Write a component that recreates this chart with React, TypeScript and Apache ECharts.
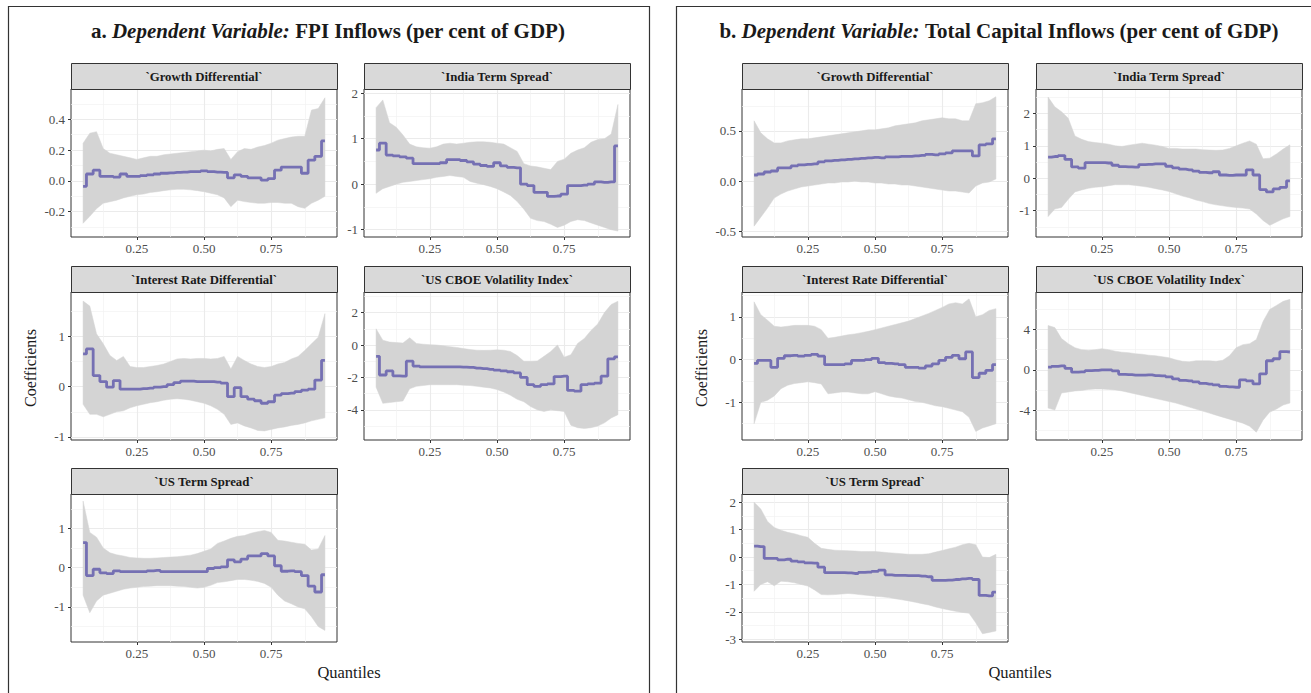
import React, { useEffect, useRef } from "react";
import * as echarts from "echarts";

const quantiles = [0.05, 0.075, 0.1, 0.125, 0.15, 0.175, 0.2, 0.225, 0.25, 0.275, 0.3, 0.325, 0.35, 0.375, 0.4, 0.425, 0.45, 0.475, 0.5, 0.525, 0.55, 0.575, 0.6, 0.625, 0.65, 0.675, 0.7, 0.725, 0.75, 0.775, 0.8, 0.825, 0.85, 0.875, 0.9, 0.925, 0.95];

const xMajorTicks = [0.25, 0.5, 0.75];
const xMinorTicks = [0.125, 0.375, 0.625, 0.875];

// a. FPI inflows
const fpiGrowthCoef = [-0.035, 0.045, 0.07, 0.03, 0.03, 0.025, 0.045, 0.03, 0.03, 0.035, 0.04, 0.045, 0.05, 0.053, 0.055, 0.057, 0.06, 0.06, 0.065, 0.06, 0.057, 0.055, 0.02, 0.04, 0.03, 0.02, 0.02, 0.005, 0.015, 0.07, 0.09, 0.09, 0.09, 0.05, 0.135, 0.16, 0.26];
const fpiGrowthUpper = [0.245, 0.31, 0.32, 0.21, 0.18, 0.17, 0.16, 0.15, 0.14, 0.15, 0.16, 0.16, 0.17, 0.175, 0.18, 0.185, 0.19, 0.195, 0.2, 0.195, 0.205, 0.21, 0.14, 0.19, 0.21, 0.205, 0.22, 0.23, 0.245, 0.265, 0.275, 0.285, 0.29, 0.29, 0.46, 0.47, 0.54];
const fpiGrowthLower = [-0.275, -0.23, -0.18, -0.145, -0.135, -0.125, -0.11, -0.1, -0.09, -0.085, -0.075, -0.07, -0.063, -0.058, -0.054, -0.054, -0.058, -0.063, -0.07, -0.08, -0.09, -0.11, -0.167, -0.125, -0.134, -0.14, -0.145, -0.145, -0.14, -0.14, -0.145, -0.145, -0.167, -0.178, -0.145, -0.125, -0.1];

const fpiIndiaCoef = [0.75, 0.9, 0.64, 0.62, 0.6, 0.57, 0.45, 0.45, 0.45, 0.45, 0.47, 0.54, 0.54, 0.52, 0.49, 0.44, 0.41, 0.39, 0.47, 0.4, 0.37, 0.36, 0.0, -0.03, -0.18, -0.18, -0.27, -0.26, -0.22, -0.03, -0.03, -0.02, 0.0, 0.05, 0.04, 0.05, 0.84];
const fpiIndiaUpper = [1.68, 1.85, 1.35, 1.25, 1.08, 0.88, 0.82, 0.8, 0.79, 0.82, 0.88, 0.9, 0.88, 0.9, 0.92, 0.93, 0.93, 0.92, 0.9, 0.88, 0.8, 0.72, 0.45, 0.4, 0.38, 0.35, 0.32, 0.5, 0.55, 0.68, 0.75, 0.8, 0.92, 0.98, 1.0, 1.1, 1.75];
const fpiIndiaLower = [-0.2, -0.1, -0.05, 0.0, 0.04, 0.06, 0.08, 0.1, 0.12, 0.15, 0.17, 0.19, 0.17, 0.15, 0.06, 0.02, -0.01, -0.05, -0.1, -0.17, -0.25, -0.38, -0.55, -0.75, -0.8, -0.82, -0.88, -0.95, -0.9, -0.82, -0.78, -0.8, -0.85, -0.9, -0.95, -1.0, -1.03];

const fpiRateCoef = [0.65, 0.75, 0.22, 0.1, -0.01, 0.12, -0.05, -0.05, -0.05, -0.04, -0.03, -0.01, 0.0, 0.04, 0.08, 0.11, 0.11, 0.1, 0.1, 0.1, 0.09, 0.07, -0.2, -0.02, -0.2, -0.25, -0.28, -0.33, -0.3, -0.17, -0.14, -0.13, -0.1, -0.07, -0.05, 0.13, 0.52];
const fpiRateUpper = [1.7, 1.6, 1.05, 0.85, 0.62, 0.52, 0.6, 0.4, 0.38, 0.38, 0.4, 0.42, 0.45, 0.5, 0.55, 0.56, 0.55, 0.56, 0.56, 0.55, 0.56, 0.6, 0.35, 0.6, 0.52, 0.45, 0.4, 0.38, 0.4, 0.45, 0.48, 0.55, 0.6, 0.72, 0.85, 0.98, 1.45];
const fpiRateLower = [-0.35, -0.55, -0.55, -0.6, -0.55, -0.5, -0.48, -0.42, -0.38, -0.35, -0.32, -0.3, -0.27, -0.25, -0.24, -0.25, -0.27, -0.3, -0.33, -0.38, -0.45, -0.55, -0.75, -0.72, -0.78, -0.82, -0.87, -0.88, -0.85, -0.82, -0.8, -0.77, -0.75, -0.72, -0.68, -0.65, -0.62];

const fpiVixCoef = [-0.7, -1.85, -1.6, -1.9, -1.92, -1.0, -1.3, -1.35, -1.35, -1.35, -1.35, -1.35, -1.35, -1.36, -1.38, -1.42, -1.46, -1.5, -1.55, -1.6, -1.65, -1.72, -2.0, -2.45, -2.55, -2.45, -2.4, -1.95, -1.92, -2.8, -2.85, -2.45, -2.4, -2.35, -1.92, -0.85, -0.73];
const fpiVixUpper = [1.0, 0.3, 0.18, 0.15, 0.12, 0.45, 0.1, 0.05, 0.02, 0.0, -0.05, -0.1, -0.15, -0.22, -0.28, -0.32, -0.33, -0.32, -0.3, -0.32, -0.4, -0.65, -1.0, -1.0, -0.98, -0.7, -0.4, 0.0, -0.75, -0.6, 0.1, 0.4, 0.9, 1.3, 2.0, 2.5, 2.7];
const fpiVixLower = [-2.6, -3.6, -3.55, -3.5, -3.45, -2.7, -2.55, -2.5, -2.45, -2.45, -2.45, -2.45, -2.45, -2.48, -2.5, -2.55, -2.6, -2.65, -2.75, -2.9, -3.1, -3.35, -3.5, -3.8, -4.0, -4.1, -4.0, -4.05, -4.1, -4.95, -5.1, -5.15, -5.1, -5.0, -4.8, -4.5, -4.3];

const fpiUsTermCoef = [0.64, -0.2, -0.04, -0.13, -0.15, -0.08, -0.1, -0.1, -0.1, -0.1, -0.08, -0.07, -0.1, -0.1, -0.1, -0.1, -0.1, -0.1, -0.1, -0.02, 0.0, 0.02, 0.2, 0.15, 0.22, 0.3, 0.3, 0.36, 0.3, 0.05, -0.09, -0.08, -0.1, -0.2, -0.47, -0.62, -0.18];
const fpiUsTermUpper = [1.7, 0.9, 0.78, 0.5, 0.38, 0.33, 0.3, 0.26, 0.25, 0.24, 0.24, 0.25, 0.26, 0.27, 0.28, 0.3, 0.32, 0.36, 0.42, 0.48, 0.62, 0.68, 0.75, 0.8, 0.82, 0.88, 0.92, 0.95, 0.9, 0.7, 0.68, 0.65, 0.62, 0.6, 0.45, 0.48, 0.82];
const fpiUsTermLower = [-0.7, -1.15, -0.85, -0.7, -0.65, -0.6, -0.55, -0.52, -0.5, -0.48, -0.47, -0.46, -0.46, -0.46, -0.47, -0.48, -0.5, -0.52, -0.5, -0.45, -0.38, -0.36, -0.33, -0.3, -0.3, -0.32, -0.35, -0.4, -0.5, -0.7, -0.85, -0.92, -1.0, -1.05, -1.25, -1.5, -1.6];

// b. Total capital inflows
const totGrowthCoef = [0.06, 0.07, 0.09, 0.1, 0.13, 0.13, 0.15, 0.16, 0.165, 0.17, 0.19, 0.2, 0.205, 0.21, 0.215, 0.22, 0.225, 0.23, 0.235, 0.23, 0.24, 0.24, 0.245, 0.245, 0.25, 0.255, 0.265, 0.26, 0.27, 0.28, 0.3, 0.3, 0.3, 0.25, 0.36, 0.37, 0.42];
const totGrowthUpper = [0.6, 0.48, 0.42, 0.38, 0.38, 0.4, 0.41, 0.42, 0.42, 0.43, 0.44, 0.45, 0.46, 0.47, 0.48, 0.49, 0.5, 0.51, 0.51, 0.52, 0.53, 0.55, 0.56, 0.57, 0.58, 0.6, 0.61, 0.62, 0.63, 0.62, 0.62, 0.6, 0.6, 0.77, 0.78, 0.8, 0.84];
const totGrowthLower = [-0.45, -0.36, -0.27, -0.17, -0.13, -0.1, -0.08, -0.06, -0.05, -0.04, -0.03, -0.02, -0.02, -0.01, -0.01, 0.0, -0.01, -0.01, -0.02, -0.02, -0.03, -0.03, -0.04, -0.04, -0.05, -0.06, -0.07, -0.08, -0.09, -0.1, -0.1, -0.11, -0.12, -0.05, -0.02, -0.01, 0.02];

const totIndiaCoef = [0.65, 0.67, 0.7, 0.58, 0.35, 0.31, 0.48, 0.48, 0.48, 0.47, 0.4, 0.36, 0.35, 0.34, 0.42, 0.43, 0.44, 0.44, 0.37, 0.32, 0.28, 0.26, 0.22, 0.18, 0.17, 0.2, 0.1, 0.09, 0.1, 0.1, 0.26, 0.1, -0.35, -0.42, -0.33, -0.28, -0.08];
const totIndiaUpper = [2.5, 2.2, 2.05, 1.85, 1.3, 1.2, 1.13, 1.1, 1.08, 1.05, 1.0, 0.98, 1.02, 1.05, 1.08, 1.05, 1.02, 0.98, 0.92, 0.92, 0.9, 0.9, 0.9, 0.88, 0.87, 0.86, 0.87, 0.92, 1.0, 1.08, 1.15, 1.05, 0.6, 0.62, 0.75, 0.9, 1.03];
const totIndiaLower = [-1.18, -0.95, -0.9, -0.65, -0.42, -0.36, -0.31, -0.28, -0.26, -0.23, -0.2, -0.2, -0.2, -0.22, -0.25, -0.28, -0.32, -0.36, -0.41, -0.48, -0.55, -0.6, -0.67, -0.72, -0.78, -0.82, -0.85, -0.88, -0.9, -0.92, -0.95, -1.1, -1.3, -1.45, -1.35, -1.25, -1.18];

const totRateCoef = [-0.09, -0.02, -0.02, -0.18, 0.03, 0.09, 0.1, 0.08, 0.1, 0.12, 0.08, -0.12, -0.12, -0.12, -0.1, -0.02, -0.02, 0.0, 0.03, -0.07, -0.09, -0.1, -0.12, -0.18, -0.18, -0.2, -0.15, -0.1, -0.02, 0.05, 0.1, 0.02, 0.18, -0.42, -0.32, -0.25, -0.12];
const totRateUpper = [1.35, 1.05, 0.92, 0.78, 0.76, 0.78, 0.8, 0.8, 0.8, 0.78, 0.7, 0.5, 0.52, 0.55, 0.58, 0.6, 0.63, 0.66, 0.7, 0.74, 0.78, 0.82, 0.86, 0.9, 0.96, 1.02, 1.08, 1.15, 1.22, 1.3, 1.33, 1.3, 1.42, 1.0, 1.05, 1.15, 1.19];
const totRateLower = [-1.5, -1.0, -0.95, -0.85, -0.68, -0.6, -0.56, -0.54, -0.52, -0.54, -0.57, -0.8, -0.78, -0.76, -0.76, -0.78, -0.8, -0.8, -0.75, -0.8, -0.85, -0.88, -0.9, -0.94, -0.98, -1.0, -1.04, -1.08, -1.1, -1.14, -1.18, -1.22, -1.35, -1.68, -1.6, -1.55, -1.5];

const totVixCoef = [0.27, 0.35, 0.4, 0.15, -0.23, -0.2, -0.07, -0.05, 0.0, 0.0, -0.1, -0.45, -0.48, -0.52, -0.52, -0.5, -0.57, -0.6, -0.7, -0.9, -1.05, -1.1, -1.2, -1.35, -1.42, -1.5, -1.65, -1.7, -1.73, -1.0, -1.1, -1.4, -0.4, 0.9, 1.1, 1.8, 1.77];
const totVixUpper = [4.4, 4.2, 3.1, 2.6, 2.2, 2.0, 1.95, 2.0, 2.1, 2.0, 1.85, 1.75, 1.7, 1.6, 1.55, 1.45, 1.4, 1.3, 1.2, 1.0, 0.85, 0.8, 0.9, 0.9, 0.9, 0.85, 0.95, 1.4, 2.2, 2.5, 2.6, 3.0, 4.8, 6.0, 6.4, 6.8, 7.0];
const totVixLower = [-3.8, -4.0, -2.3, -2.2, -2.1, -2.05, -1.95, -1.9, -1.9, -1.95, -2.0, -2.1, -2.25, -2.4, -2.55, -2.7, -2.85, -3.0, -3.15, -3.3, -3.5, -3.7, -3.9, -4.1, -4.3, -4.5, -4.7, -4.9, -5.1, -5.3, -5.6, -6.2, -5.0, -4.2, -3.9, -3.5, -3.3];

const totUsTermCoef = [0.4, 0.38, -0.05, -0.05, -0.1, -0.08, -0.15, -0.18, -0.21, -0.22, -0.37, -0.57, -0.57, -0.57, -0.58, -0.6, -0.56, -0.55, -0.52, -0.48, -0.65, -0.67, -0.67, -0.68, -0.68, -0.7, -0.72, -0.85, -0.85, -0.84, -0.82, -0.8, -0.78, -0.82, -1.4, -1.42, -1.28];
const totUsTermUpper = [2.0, 1.75, 1.3, 1.08, 0.98, 0.9, 0.85, 0.78, 0.72, 0.5, 0.32, 0.28, 0.25, 0.24, 0.23, 0.22, 0.2, 0.2, 0.2, 0.18, 0.16, 0.14, 0.12, 0.1, 0.1, 0.1, 0.12, 0.18, 0.24, 0.3, 0.36, 0.45, 0.5, 0.45, 0.0, -0.02, 0.1];
const totUsTermLower = [-1.25, -1.0, -0.9, -1.05, -0.88, -0.9, -0.94, -1.0, -1.06, -1.2, -1.37, -1.38, -1.37, -1.35, -1.33, -1.35, -1.38, -1.4, -1.43, -1.45, -1.48, -1.52, -1.56, -1.6, -1.65, -1.7, -1.75, -1.82, -1.88, -1.93, -1.98, -2.02, -2.05, -2.4, -2.8, -2.75, -2.7];

const FONT = "'Liberation Serif', 'Times New Roman', serif";
const PW = 266;
const PH = 148;
const STRIP_H = 26;
const X_MIN = 0.005;
const X_MAX = 0.995;

type Panel = {
  name: string;
  coef: number[];
  upper: number[];
  lower: number[];
  yMin: number;
  yMax: number;
  major: number[];
  minor: number[];
  digits: number;
  left: number;
  top: number;
};

const panels: Panel[] = [
  { name: "`Growth Differential`", coef: fpiGrowthCoef, upper: fpiGrowthUpper, lower: fpiGrowthLower, yMin: -0.364, yMax: 0.597, major: [-0.2, 0, 0.2, 0.4], minor: [-0.3, -0.1, 0.1, 0.3, 0.5], digits: 1, left: 71, top: 89 },
  { name: "`India Term Spread`", coef: fpiIndiaCoef, upper: fpiIndiaUpper, lower: fpiIndiaLower, yMin: -1.16, yMax: 2.09, major: [-1, 0, 1, 2], minor: [-0.5, 0.5, 1.5], digits: 0, left: 364, top: 89 },
  { name: "`Interest Rate Differential`", coef: fpiRateCoef, upper: fpiRateUpper, lower: fpiRateLower, yMin: -1.06, yMax: 1.88, major: [-1, 0, 1], minor: [-0.5, 0.5, 1.5], digits: 0, left: 71, top: 292 },
  { name: "`US CBOE Volatility Index`", coef: fpiVixCoef, upper: fpiVixUpper, lower: fpiVixLower, yMin: -5.86, yMax: 3.27, major: [-4, -2, 0, 2], minor: [-5, -3, -1, 1, 3], digits: 0, left: 364, top: 292 },
  { name: "`US Term Spread`", coef: fpiUsTermCoef, upper: fpiUsTermUpper, lower: fpiUsTermLower, yMin: -1.895, yMax: 1.88, major: [-1, 0, 1], minor: [-1.5, -0.5, 0.5, 1.5], digits: 0, left: 71, top: 494 },
  { name: "`Growth Differential`", coef: totGrowthCoef, upper: totGrowthUpper, lower: totGrowthLower, yMin: -0.558, yMax: 0.917, major: [-0.5, 0, 0.5], minor: [-0.25, 0.25, 0.75], digits: 1, left: 742, top: 89 },
  { name: "`India Term Spread`", coef: totIndiaCoef, upper: totIndiaUpper, lower: totIndiaLower, yMin: -1.81, yMax: 2.75, major: [-1, 0, 1, 2], minor: [-1.5, -0.5, 0.5, 1.5, 2.5], digits: 0, left: 1036, top: 89 },
  { name: "`Interest Rate Differential`", coef: totRateCoef, upper: totRateUpper, lower: totRateLower, yMin: -1.88, yMax: 1.58, major: [-1, 0, 1], minor: [-1.5, -0.5, 0.5, 1.5], digits: 0, left: 742, top: 292 },
  { name: "`US CBOE Volatility Index`", coef: totVixCoef, upper: totVixUpper, lower: totVixLower, yMin: -6.97, yMax: 7.73, major: [-4, 0, 4], minor: [-6, -2, 2, 6], digits: 0, left: 1036, top: 292 },
  { name: "`US Term Spread`", coef: totUsTermCoef, upper: totUsTermUpper, lower: totUsTermLower, yMin: -3.1, yMax: 2.3, major: [-3, -2, -1, 0, 1, 2], minor: [-2.5, -1.5, -0.5, 0.5, 1.5], digits: 0, left: 742, top: 494 },
];

function buildOption() {
  const grid: any[] = [];
  const xAxis: any[] = [];
  const yAxis: any[] = [];
  const series: any[] = [];
  const graphic: any[] = [];

  panels.forEach((p, i) => {
    grid.push({
      left: p.left, top: p.top, width: PW, height: PH,
      show: true, borderColor: "#333333", borderWidth: 1, backgroundColor: "#FFFFFF", containLabel: false,
    });
    xAxis.push({
      gridIndex: i, type: "value", min: X_MIN, max: X_MAX, position: "bottom",
      axisLine: { show: false, onZero: false },
      axisTick: { show: true, length: 3, lineStyle: { color: "#333333", width: 1 }, customValues: xMajorTicks },
      axisLabel: { show: true, customValues: xMajorTicks, formatter: (v: number) => v.toFixed(2), color: "#4D4D4D", fontSize: 13, fontFamily: FONT, margin: 5 },
      splitLine: { show: true, lineStyle: { color: "#EBEBEB", width: 1.1 } },
    });
    xAxis.push({
      gridIndex: i, type: "value", min: X_MIN, max: X_MAX, position: "bottom",
      axisLine: { show: false, onZero: false },
      axisTick: { show: false, customValues: xMinorTicks },
      axisLabel: { show: false },
      splitLine: { show: true, lineStyle: { color: "#F2F2F2", width: 0.7 } },
    });
    yAxis.push({
      gridIndex: i, type: "value", min: p.yMin, max: p.yMax, position: "left",
      axisLine: { show: false, onZero: false },
      axisTick: { show: true, length: 3, lineStyle: { color: "#333333", width: 1 }, customValues: p.major },
      axisLabel: { show: true, customValues: p.major, formatter: (v: number) => v.toFixed(p.digits), color: "#4D4D4D", fontSize: 13, fontFamily: FONT, margin: 6 },
      splitLine: { show: true, lineStyle: { color: "#EBEBEB", width: 1.1 } },
    });
    yAxis.push({
      gridIndex: i, type: "value", min: p.yMin, max: p.yMax, position: "left",
      axisLine: { show: false, onZero: false },
      axisTick: { show: false, customValues: p.minor },
      axisLabel: { show: false },
      splitLine: { show: true, lineStyle: { color: "#F2F2F2", width: 0.7 } },
    });

    series.push({
      type: "custom",
      xAxisIndex: 2 * i,
      yAxisIndex: 2 * i,
      silent: true,
      clip: true,
      z: 2,
      data: [[quantiles[0], p.lower[0]]],
      renderItem: (_params: any, api: any) => {
        const pts: number[][] = [];
        for (let k = 0; k < quantiles.length; k++) pts.push(api.coord([quantiles[k], p.upper[k]]));
        for (let k = quantiles.length - 1; k >= 0; k--) pts.push(api.coord([quantiles[k], p.lower[k]]));
        return { type: "polygon", shape: { points: pts }, style: { fill: "#D4D4D4", stroke: "#D4D4D4", lineWidth: 0.5 } };
      },
    });
    series.push({
      type: "line",
      xAxisIndex: 2 * i,
      yAxisIndex: 2 * i,
      data: quantiles.map((q, k) => [q, p.coef[k]]),
      step: "middle",
      showSymbol: false,
      symbol: "none",
      silent: true,
      z: 3,
      lineStyle: { color: "#7570B3", width: 2.8 },
    });

    graphic.push({
      type: "rect",
      shape: { x: p.left + 0.5, y: p.top - STRIP_H + 0.5, width: PW, height: STRIP_H },
      style: { fill: "#D9D9D9", stroke: "#333333", lineWidth: 1 },
      z: 10,
    });
    graphic.push({
      type: "text",
      x: p.left + PW / 2,
      y: p.top - STRIP_H / 2 + 1,
      style: { text: p.name, font: `bold 12.8px ${FONT}`, fill: "#1A1A1A", align: "center", verticalAlign: "middle" },
      z: 11,
    });
  });

  // outer boxes
  graphic.push({ type: "rect", shape: { x: 8.5, y: 6.5, width: 641, height: 720 }, style: { fill: "none", stroke: "#333333", lineWidth: 1.2 }, z: 1 });
  graphic.push({ type: "rect", shape: { x: 676.5, y: 6.5, width: 641, height: 720 }, style: { fill: "none", stroke: "#333333", lineWidth: 1.2 }, z: 1 });

  const titleRich = {
    n: { fontFamily: FONT, fontSize: 21, fontWeight: "bold", fill: "#1A1A1A" },
    i: { fontFamily: FONT, fontSize: 21, fontWeight: "bold", fontStyle: "italic", fill: "#1A1A1A" },
  };
  graphic.push({
    type: "text", x: 328, y: 31, z: 12,
    style: { text: "{n|a. }{i|Dependent Variable: }{n|FPI Inflows (per cent of GDP)}", rich: titleRich, align: "center", verticalAlign: "middle" },
  });
  graphic.push({
    type: "text", x: 999, y: 31, z: 12,
    style: { text: "{n|b. }{i|Dependent Variable: }{n|Total Capital Inflows (per cent of GDP)}", rich: titleRich, align: "center", verticalAlign: "middle" },
  });

  // axis titles
  graphic.push({ type: "text", x: 30, y: 368, rotation: Math.PI / 2, z: 12, style: { text: "Coefficients", font: `16px ${FONT}`, fill: "#1A1A1A", align: "center", verticalAlign: "middle" } });
  graphic.push({ type: "text", x: 701, y: 368, rotation: Math.PI / 2, z: 12, style: { text: "Coefficients", font: `16px ${FONT}`, fill: "#1A1A1A", align: "center", verticalAlign: "middle" } });
  graphic.push({ type: "text", x: 349, y: 672, z: 12, style: { text: "Quantiles", font: `16.5px ${FONT}`, fill: "#1A1A1A", align: "center", verticalAlign: "middle" } });
  graphic.push({ type: "text", x: 1020, y: 672, z: 12, style: { text: "Quantiles", font: `16.5px ${FONT}`, fill: "#1A1A1A", align: "center", verticalAlign: "middle" } });

  return {
    animation: false,
    backgroundColor: "#FFFFFF",
    grid,
    xAxis,
    yAxis,
    series,
    graphic,
  };
}

export default function App() {
  const ref = useRef<HTMLDivElement>(null);
  useEffect(() => {
    if (!ref.current) return;
    const chart = echarts.init(ref.current, undefined, { renderer: "svg" });
    chart.setOption(buildOption() as any);
    return () => chart.dispose();
  }, []);
  return (
    <div
      ref={ref}
      style={{ position: "fixed", left: 0, top: 0, width: 1311, height: 693, background: "#FFFFFF" }}
    />
  );
}
